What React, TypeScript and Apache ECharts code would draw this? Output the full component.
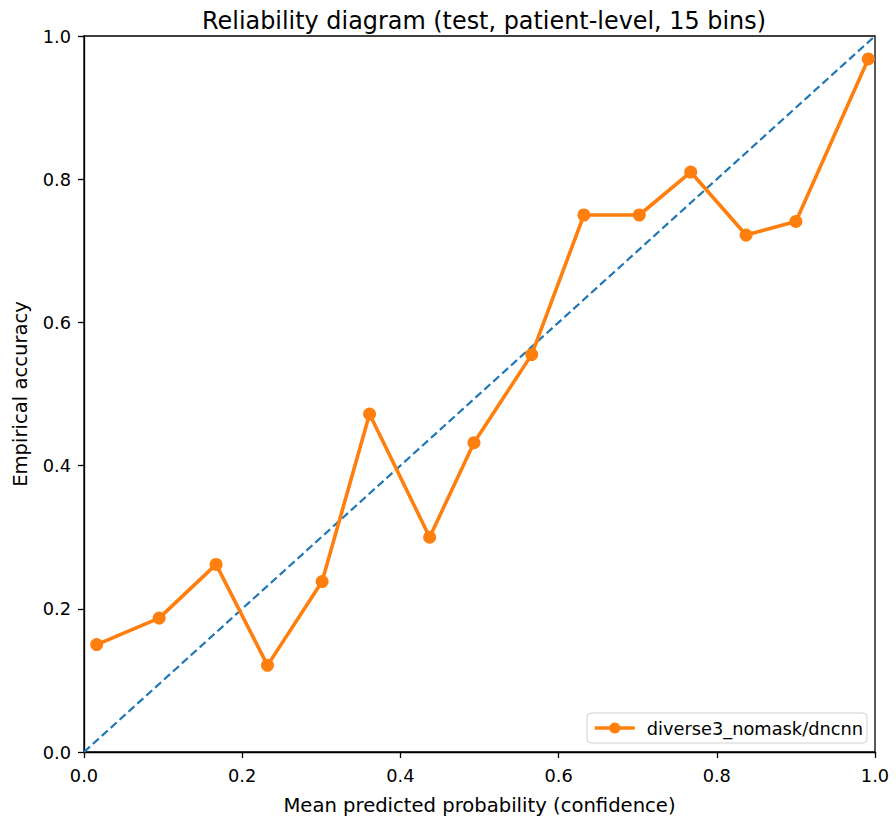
import React, { useEffect, useRef } from "react";
import * as echarts from "echarts";

const titleText = "Reliability diagram (test, patient-level, 15 bins)";
const xAxisName = "Mean predicted probability (confidence)";
const yAxisName = "Empirical accuracy";
const seriesName = "diverse3_nomask/dncnn";

const confidence = [0.016, 0.095, 0.167, 0.232, 0.301, 0.361, 0.437, 0.493, 0.566, 0.632, 0.702, 0.767, 0.837, 0.9, 0.9915];
const accuracy = [0.15, 0.187, 0.262, 0.121, 0.238, 0.472, 0.3, 0.432, 0.555, 0.75, 0.75, 0.81, 0.722, 0.741, 0.968];
const diagonal = [[0, 0], [1, 1]];

const FONT = "DejaVu Sans";

export default function App() {
  const ref = useRef<HTMLDivElement>(null);
  useEffect(() => {
    if (!ref.current) return;
    const chart = echarts.init(ref.current, undefined, { renderer: "svg" });
    const axisCommon = {
      type: "value" as const,
      min: 0,
      max: 1,
      interval: 0.2,
      nameLocation: "middle" as const,
      nameTextStyle: { fontFamily: FONT, fontSize: 19.6, color: "#000" },
      axisLine: { show: true, lineStyle: { color: "#000", width: 1.3 } },
      axisTick: { show: true, inside: false, length: 6, lineStyle: { color: "#000", width: 1.3 } },
      axisLabel: {
        fontFamily: FONT,
        fontSize: 17.8,
        color: "#000",
        formatter: (v: number) => v.toFixed(1),
      },
      splitLine: { show: false },
    };
    chart.setOption({
      animation: false,
      backgroundColor: "#fff",
      title: {
        text: titleText,
        left: 479,
        top: 3.5,
        textAlign: "center",
        textStyle: { fontFamily: FONT, fontSize: 23.9, fontWeight: "normal", color: "#000" },
      },
      grid: {
        left: 84,
        right: 21,
        top: 36,
        bottom: 67,
        show: true,
        borderColor: "#000",
        borderWidth: 1.3,
        backgroundColor: "transparent",
      },
      xAxis: {
        ...axisCommon,
        name: xAxisName,
        nameGap: 43,
        axisLabel: { ...axisCommon.axisLabel, margin: 14 },
      },
      yAxis: {
        ...axisCommon,
        name: yAxisName,
        nameGap: 54,
        axisLabel: { ...axisCommon.axisLabel, margin: 13 },
      },
      legend: {
        data: [{ name: seriesName }],
        right: 29,
        bottom: 77,
        orient: "horizontal",
        backgroundColor: "#fff",
        borderColor: "#d0d0d0",
        borderWidth: 1,
        borderRadius: 4,
        padding: [6, 4, 6, 6],
        itemWidth: 40,
        itemHeight: 14,
        itemGap: 10,
        lineStyle: { width: 3.6 },
        textStyle: { fontFamily: FONT, fontSize: 17.8, color: "#000", padding: [0, 0, 0, 7] },
      },
      series: [
        {
          name: "diagonal",
          type: "line",
          data: diagonal,
          showSymbol: false,
          symbol: "none",
          silent: true,
          lineStyle: { color: "#1f77b4", width: 2.2, type: [8, 4] },
          z: 1,
        },
        {
          name: seriesName,
          type: "line",
          data: confidence.map((c, i) => [c, accuracy[i]]),
          symbol: "circle",
          symbolSize: 13,
          showSymbol: true,
          itemStyle: { color: "#ff7f0e" },
          lineStyle: { color: "#ff7f0e", width: 3.6 },
          z: 2,
        },
      ],
    });
    return () => chart.dispose();
  }, []);
  return (
    <div
      ref={ref}
      style={{ position: "absolute", left: 0, top: 0, width: 896, height: 820 }}
    />
  );
}
